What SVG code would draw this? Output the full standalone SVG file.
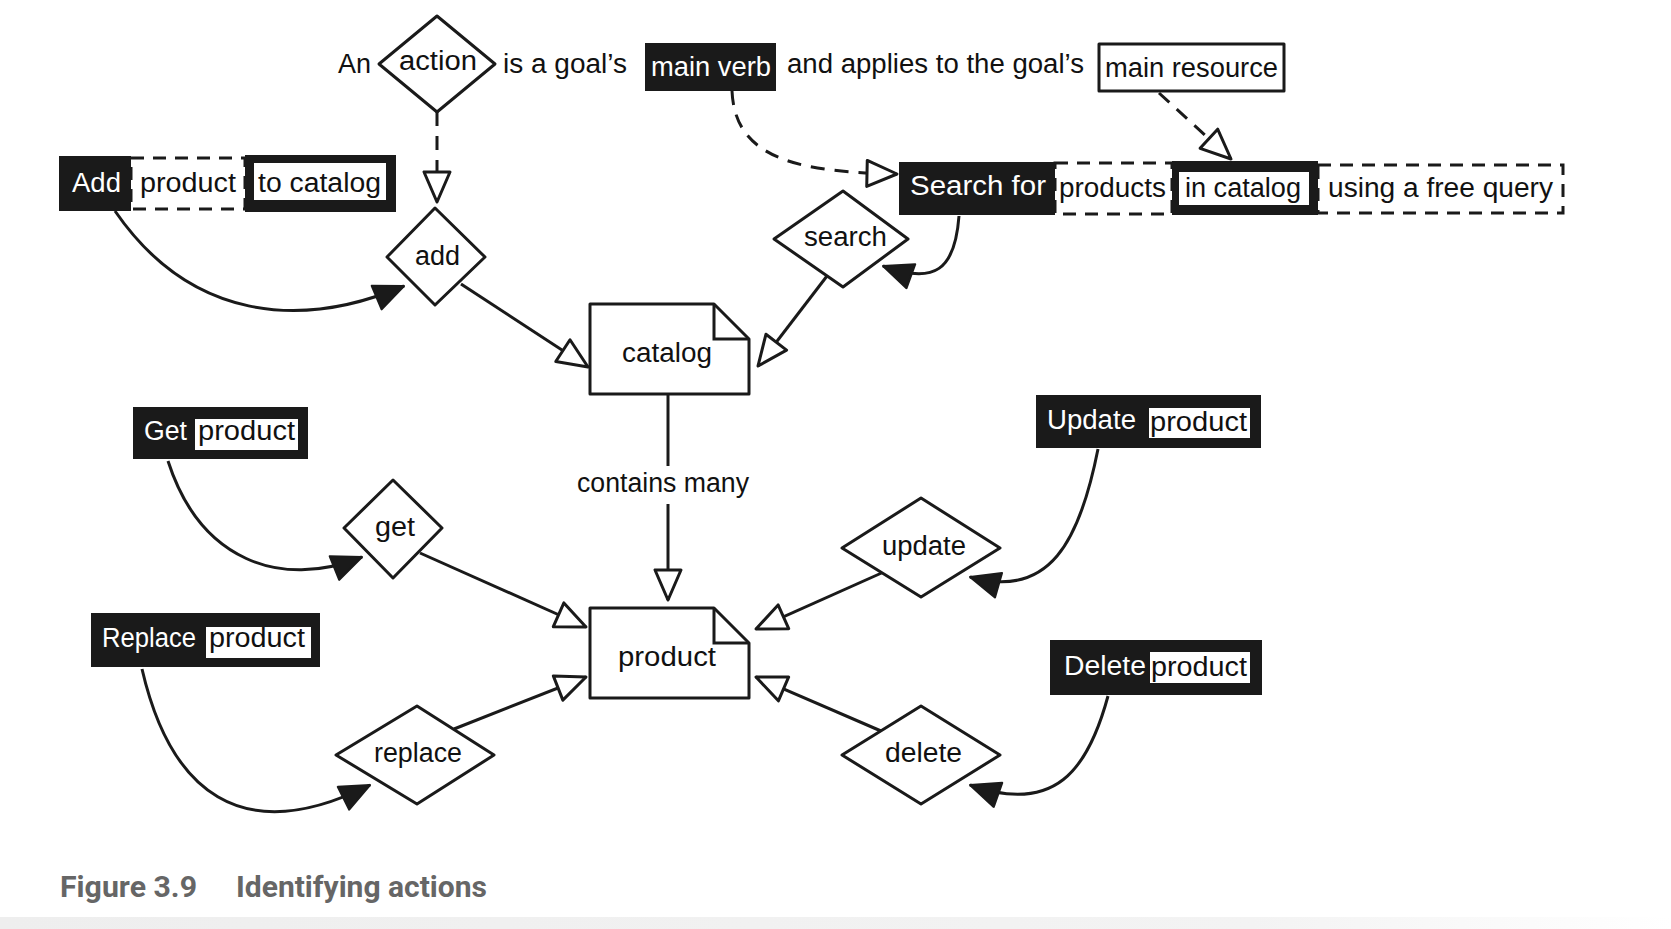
<svg xmlns="http://www.w3.org/2000/svg" width="1671" height="929" viewBox="0 0 1671 929">
<style>
text{font-family:"Liberation Sans","DejaVu Sans",sans-serif;font-size:27px;fill:#111}
.w{fill:#fff}
.blk{fill:#1a1a1a}
.wb{fill:#fff}
.dash{fill:#fff;stroke:#1a1a1a;stroke-width:3;stroke-dasharray:13 9}
.dia{fill:#fff;stroke:#1a1a1a;stroke-width:3;stroke-linejoin:round}
.node{fill:#fff;stroke:#1a1a1a;stroke-width:3;stroke-linejoin:round}
.c{fill:none;stroke:#1a1a1a;stroke-width:3}
.cd{fill:none;stroke:#1a1a1a;stroke-width:3;stroke-dasharray:14 10}
.cap{font-family:"Roboto","Liberation Sans",sans-serif;font-weight:bold;fill:#666;font-size:29px}
</style>
<defs>
<marker id="hollow" markerUnits="userSpaceOnUse" markerWidth="40" markerHeight="40" viewBox="-4 -16 40 32" refX="30" refY="0" orient="auto">
<path d="M0,-13 L30,0 L0,13 Z" fill="#fff" stroke="#1a1a1a" stroke-width="3" stroke-linejoin="round"/>
</marker>
<marker id="solid" markerUnits="userSpaceOnUse" markerWidth="36" markerHeight="36" viewBox="-2 -14 34 28" refX="28" refY="0" orient="auto">
<path d="M0,-12 L28,0 L0,12 Z" fill="#1a1a1a" stroke="#1a1a1a" stroke-width="2" stroke-linejoin="round"/>
</marker>
<linearGradient id="band" x1="0" y1="0" x2="1" y2="0">
<stop offset="0" stop-color="#eeeeee"/><stop offset="0.75" stop-color="#f3f3f3"/><stop offset="1" stop-color="#ffffff"/>
</linearGradient>
</defs>
<rect x="0" y="0" width="1671" height="929" fill="#fff"/>
<rect x="0" y="917" width="1671" height="12" fill="url(#band)"/>

<g id="connectors">
<path class="cd" d="M437,112 V202" marker-end="url(#hollow)"/>
<path class="cd" d="M732,91 C735,160 800,172 897,174" marker-end="url(#hollow)"/>
<path class="cd" d="M1159,93 L1231,159" marker-end="url(#hollow)"/>
<path class="c" d="M115,211 C190,320 300,330 404,286" marker-end="url(#solid)"/>
<path class="c" d="M461,284 L588,367" marker-end="url(#hollow)"/>
<path class="c" d="M827,276 L758,366" marker-end="url(#hollow)"/>
<path class="c" d="M959,216 C955,270 935,285 883,266" marker-end="url(#solid)"/>
<path class="c" d="M668,394 V466"/>
<path class="c" d="M668,504 V600" marker-end="url(#hollow)"/>
<path class="c" d="M168,461 C200,560 280,590 362,557" marker-end="url(#solid)"/>
<path class="c" d="M420,553 L586,627" marker-end="url(#hollow)"/>
<path class="c" d="M142,669 C170,790 240,850 370,785" marker-end="url(#solid)"/>
<path class="c" d="M454,729 L586,677" marker-end="url(#hollow)"/>
<path class="c" d="M1098,449 C1080,540 1050,600 970,577" marker-end="url(#solid)"/>
<path class="c" d="M886,571 L756,629" marker-end="url(#hollow)"/>
<path class="c" d="M1108,696 C1088,770 1055,815 970,785" marker-end="url(#solid)"/>
<path class="c" d="M881,731 L756,677" marker-end="url(#hollow)"/>
<text x="577" y="492" textLength="172" lengthAdjust="spacingAndGlyphs">contains many</text>
</g>

<g id="sentence1">
<text x="338" y="73" textLength="33" lengthAdjust="spacingAndGlyphs">An</text>
<text x="503" y="73" textLength="124" lengthAdjust="spacingAndGlyphs">is  a goal’s</text>
<rect class="blk" x="645" y="43" width="131" height="48"/>
<text class="w" x="651" y="76" textLength="120" lengthAdjust="spacingAndGlyphs">main verb</text>
<text x="787" y="73" textLength="297" lengthAdjust="spacingAndGlyphs">and applies to the goal’s</text>
</g>
<g id="main-resource">
<rect class="node" x="1099" y="44" width="185" height="47"/>
<text x="1105" y="77" textLength="173" lengthAdjust="spacingAndGlyphs">main resource</text>
</g>
<g id="action">
<polygon class="dia" points="437,16 495,64 437,112 379,64"/>
<text x="399" y="70" textLength="78" lengthAdjust="spacingAndGlyphs">action</text>
</g>

<g id="goal-add">
<rect class="blk" x="59" y="156" width="72" height="55"/>
<text class="w" x="72" y="192" textLength="49" lengthAdjust="spacingAndGlyphs">Add</text>
<rect class="dash" x="131" y="158" width="114" height="51"/>
<text x="140" y="192" textLength="96" lengthAdjust="spacingAndGlyphs">product</text>
<rect class="blk" x="245" y="155" width="151" height="57"/>
<rect class="wb" x="254" y="163" width="132" height="37"/>
<text x="258" y="192" textLength="123" lengthAdjust="spacingAndGlyphs">to catalog</text>
</g>
<g id="add">
<polygon class="dia" points="435,208 485,257 435,305 387,257"/>
<text x="415" y="265" textLength="45" lengthAdjust="spacingAndGlyphs">add</text>
</g>

<g id="goal-search">
<rect class="blk" x="899" y="162" width="156" height="53"/>
<text class="w" x="910" y="195" textLength="136" lengthAdjust="spacingAndGlyphs">Search for</text>
<rect class="dash" x="1055" y="163" width="117" height="51"/>
<text x="1059" y="197" textLength="107" lengthAdjust="spacingAndGlyphs">products</text>
<rect class="blk" x="1172" y="161" width="146" height="54"/>
<rect class="wb" x="1179" y="172" width="130" height="33"/>
<text x="1185" y="197" textLength="116" lengthAdjust="spacingAndGlyphs">in catalog</text>
<rect class="dash" x="1318" y="165" width="245" height="48"/>
<text x="1328" y="197" textLength="225" lengthAdjust="spacingAndGlyphs">using a free query</text>
</g>
<g id="search">
<polygon class="dia" points="843,191 908,239 843,287 774,239"/>
<text x="804" y="246" textLength="83" lengthAdjust="spacingAndGlyphs">search</text>
</g>

<g id="catalog">
<path class="node" d="M590,304 H714 L749,339 V394 H590 Z"/>
<path class="c" d="M714,304 V339 H749"/>
<text x="622" y="362" textLength="90" lengthAdjust="spacingAndGlyphs">catalog</text>
</g>

<g id="product">
<path class="node" d="M590,608 H714 L749,643 V698 H590 Z"/>
<path class="c" d="M714,608 V643 H749"/>
<text x="618" y="666" textLength="98" lengthAdjust="spacingAndGlyphs">product</text>
</g>

<g id="goal-get">
<rect class="blk" x="133" y="407" width="175" height="52"/>
<text class="w" x="144" y="440" textLength="43" lengthAdjust="spacingAndGlyphs">Get</text>
<rect class="wb" x="195" y="419" width="103" height="31"/>
<text x="198" y="440" textLength="97" lengthAdjust="spacingAndGlyphs">product</text>
</g>
<g id="get">
<polygon class="dia" points="393,480 442,528 393,578 344,528"/>
<text x="375" y="536" textLength="40" lengthAdjust="spacingAndGlyphs">get</text>
</g>

<g id="goal-replace">
<rect class="blk" x="91" y="613" width="229" height="54"/>
<text class="w" x="102" y="647" textLength="94" lengthAdjust="spacingAndGlyphs">Replace</text>
<rect class="wb" x="206" y="627" width="105" height="31"/>
<text x="209" y="647" textLength="96" lengthAdjust="spacingAndGlyphs">product</text>
</g>
<g id="replace">
<polygon class="dia" points="417,706 494,755 417,804 336,755"/>
<text x="374" y="762" textLength="88" lengthAdjust="spacingAndGlyphs">replace</text>
</g>

<g id="goal-update">
<rect class="blk" x="1036" y="395" width="225" height="53"/>
<text class="w" x="1047" y="429" textLength="89" lengthAdjust="spacingAndGlyphs">Update</text>
<rect class="wb" x="1149" y="408" width="101" height="30"/>
<text x="1150" y="431" textLength="97" lengthAdjust="spacingAndGlyphs">product</text>
</g>
<g id="update">
<polygon class="dia" points="921,498 1000,548 921,597 842,548"/>
<text x="882" y="555" textLength="84" lengthAdjust="spacingAndGlyphs">update</text>
</g>

<g id="goal-delete">
<rect class="blk" x="1050" y="640" width="212" height="55"/>
<text class="w" x="1064" y="675" textLength="82" lengthAdjust="spacingAndGlyphs">Delete</text>
<rect class="wb" x="1150" y="652" width="100" height="31"/>
<text x="1151" y="676" textLength="96" lengthAdjust="spacingAndGlyphs">product</text>
</g>
<g id="delete">
<polygon class="dia" points="921,706 1000,755 921,804 842,755"/>
<text x="885" y="762" textLength="77" lengthAdjust="spacingAndGlyphs">delete</text>
</g>

<g id="caption">
<text class="cap" x="60" y="897" textLength="137" lengthAdjust="spacingAndGlyphs">Figure 3.9</text>
<text class="cap" x="236" y="897" textLength="251" lengthAdjust="spacingAndGlyphs">Identifying actions</text>
</g>
</svg>
